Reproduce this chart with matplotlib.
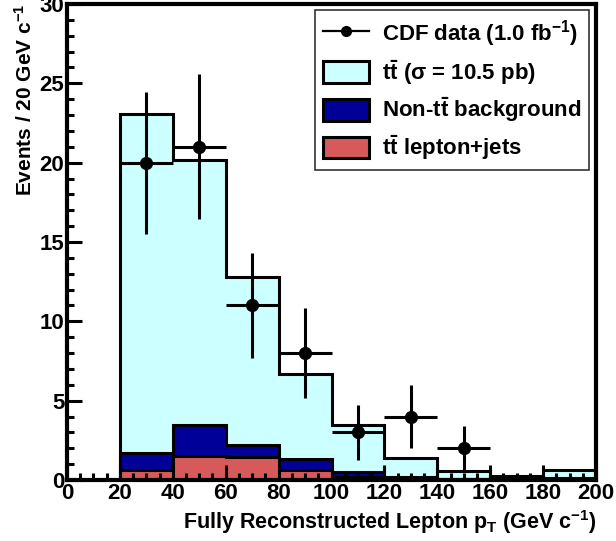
import numpy as np
import matplotlib
matplotlib.use("Agg")
import matplotlib.pyplot as plt
from matplotlib.ticker import MultipleLocator
from matplotlib.lines import Line2D

plt.rcParams['font.family'] = ['Liberation Sans', 'DejaVu Sans']
plt.rcParams['font.weight'] = 'bold'
plt.rcParams['mathtext.fontset'] = 'custom'
plt.rcParams['mathtext.rm'] = 'Liberation Sans:bold'
plt.rcParams['mathtext.it'] = 'Liberation Sans:bold'
plt.rcParams['mathtext.bf'] = 'Liberation Sans:bold'
plt.rcParams['mathtext.default'] = 'rm'

# bin edges (GeV/c) and stacked components
edges = [0, 20, 40, 60, 80, 100, 120, 140, 160, 180, 200]
ljets = [0, 0.62, 1.52, 1.42, 0.62, 0.20, 0.08, 0.03, 0.05, 0.05]
nontt = [0, 1.08, 1.92, 0.80, 0.70, 0.30, 0.08, 0.05, 0.10, 0.10]
signal = [0, 21.35, 16.71, 10.56, 5.38, 2.97, 1.20, 0.47, 0.07, 0.45]

# CDF data points
data_x = [30, 50, 70, 90, 110, 130, 150]
data_y = [20, 21, 11, 8, 3, 4, 2]
data_err = [4.47, 4.58, 3.32, 2.83, 1.73, 2.0, 1.41]

c_sig = "#ccffff"
c_bkg = "#000099"
c_lj = "#d65a5a"

fig = plt.figure(figsize=(6.16, 5.41), dpi=100)
ax = fig.add_axes([0.1088, 0.1128, 0.8587, 0.8798])

lvl1 = np.array(ljets)
lvl2 = lvl1 + np.array(nontt)
lvl3 = lvl2 + np.array(signal)

h_sig = ax.stairs(lvl3, edges, fill=True, facecolor=c_sig, edgecolor="black", linewidth=2.2)
h_bkg = ax.stairs(lvl2, edges, fill=True, facecolor=c_bkg, edgecolor="black", linewidth=2.2)
h_lj = ax.stairs(lvl1, edges, fill=True, facecolor=c_lj, edgecolor="black", linewidth=2.2)

ax.errorbar(data_x, data_y, xerr=10, yerr=data_err, fmt="o", color="black",
            markersize=8.5, elinewidth=2.2, capsize=0, zorder=5)

ax.set_xlim(0, 200)
ax.set_ylim(0, 30)
ax.xaxis.set_major_locator(MultipleLocator(20))
ax.xaxis.set_minor_locator(MultipleLocator(5))
ax.yaxis.set_major_locator(MultipleLocator(5))
ax.yaxis.set_minor_locator(MultipleLocator(1))
ax.tick_params(which="both", direction="in", top=False, right=False, width=2.2,
               labelsize=16, pad=2)
ax.tick_params(which="major", length=11)
ax.tick_params(which="minor", length=5)
for s in ax.spines.values():
    s.set_linewidth(3)

ax.set_xlabel(r"Fully Reconstructed Lepton p$_T$ (GeV c$^{-1}$)", fontsize=15.5,
              fontweight="bold", loc="right", labelpad=3)
ax.set_ylabel(r"Events / 20 GeV c$^{-1}$", fontsize=15, fontweight="bold",
              loc="top", labelpad=3)

h_data = Line2D([], [], color="black", marker="o", markersize=7, linewidth=1.6)
leg = ax.legend([h_data, h_sig, h_bkg, h_lj],
                [r"CDF data (1.0 fb$^{-1}$)", r"$t\bar{t}$ ($\sigma$ = 10.5 pb)",
                 r"Non-$t\bar{t}$ background", r"$t\bar{t}$ lepton+jets"],
                loc="upper right", bbox_to_anchor=(0.9868, 0.987), borderaxespad=0,
                fontsize=16, frameon=True, fancybox=False, edgecolor="black",
                handlelength=2.1, handleheight=1.13, borderpad=0.35,
                labelspacing=0.4, handletextpad=0.55)
leg.get_frame().set_linewidth(1.2)

fig.savefig("out.png", dpi=100)
